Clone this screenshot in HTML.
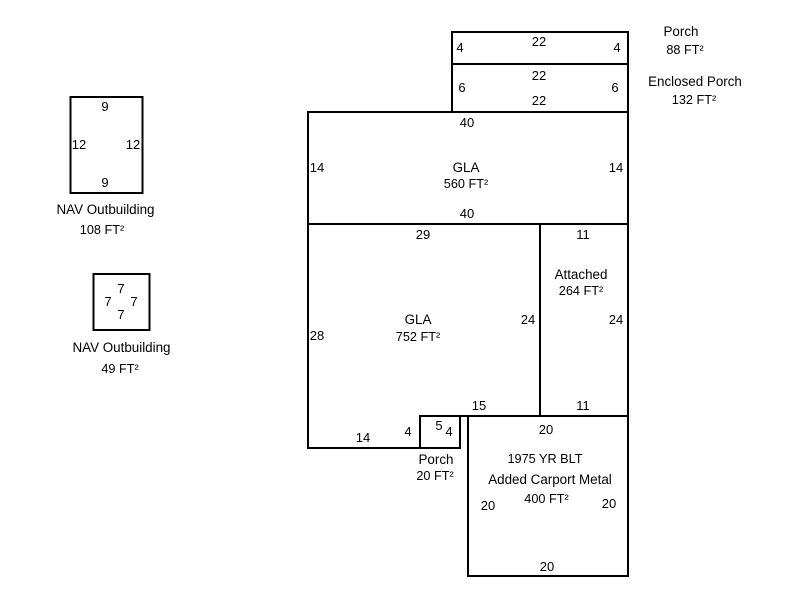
<!DOCTYPE html>
<html>
<head>
<meta charset="utf-8">
<style>
html,body{margin:0;padding:0;background:#fff;}
svg{display:block;}
text{font-family:"Liberation Sans",Arial,sans-serif;font-size:13px;fill:#000;text-anchor:middle;}
text.w{font-size:13.4px;}
text.a{font-size:12.7px;}
</style>
</head>
<body>
<svg width="800" height="600" viewBox="0 0 800 600" xmlns="http://www.w3.org/2000/svg">
<g fill="none" stroke="#000" stroke-width="2">
<rect x="452" y="32" width="176" height="32"/>
<rect x="452" y="64" width="176" height="48"/>
<rect x="308" y="112" width="320" height="112"/>
<path d="M308 224V448H420"/>
<path d="M540 224V416"/>
<path d="M628 224V576H468V416"/>
<path d="M420 416H628"/>
<rect x="420" y="416" width="40" height="32"/>
<rect x="70.500" y="97" width="72" height="96"/>
<rect x="93.500" y="274" width="56" height="56"/>
</g>
<text x="460" y="52">4</text>
<text x="539" y="46">22</text>
<text x="617" y="52">4</text>
<text x="462" y="92">6</text>
<text x="539" y="80">22</text>
<text x="539" y="105">22</text>
<text x="615" y="92">6</text>
<text class="w" x="681" y="36">Porch</text>
<text class="a" x="685" y="54">88 FT²</text>
<text class="w" x="695" y="86">Enclosed Porch</text>
<text class="a" x="694" y="104">132 FT²</text>
<text x="467" y="127">40</text>
<text x="317" y="172">14</text>
<text x="616" y="172">14</text>
<text class="w" x="466" y="172">GLA</text>
<text class="a" x="466" y="188">560 FT²</text>
<text x="467" y="218">40</text>
<text x="423" y="239">29</text>
<text x="583" y="239">11</text>
<text class="w" x="581" y="279">Attached</text>
<text class="a" x="581" y="295">264 FT²</text>
<text x="317" y="340">28</text>
<text class="w" x="418" y="324">GLA</text>
<text class="a" x="418" y="341">752 FT²</text>
<text x="528" y="324">24</text>
<text x="616" y="324">24</text>
<text x="479" y="410">15</text>
<text x="583" y="410">11</text>
<text x="363" y="442">14</text>
<text x="408" y="436">4</text>
<text x="439" y="430">5</text>
<text x="449" y="436">4</text>
<text class="w" x="436" y="464">Porch</text>
<text class="a" x="435" y="480">20 FT²</text>
<text x="546" y="434">20</text>
<text class="a" x="545" y="463">1975 YR BLT</text>
<text class="w" x="550" y="484">Added Carport Metal</text>
<text class="a" x="546.500" y="503">400 FT²</text>
<text x="488" y="510">20</text>
<text x="609" y="508">20</text>
<text x="547" y="571">20</text>
<text x="105" y="111">9</text>
<text x="79" y="149">12</text>
<text x="133" y="149">12</text>
<text x="105" y="187">9</text>
<text class="w" x="105.500" y="214">NAV Outbuilding</text>
<text class="a" x="102" y="234">108 FT²</text>
<text x="121" y="293">7</text>
<text x="108" y="306">7</text>
<text x="134" y="306">7</text>
<text x="121" y="319">7</text>
<text class="w" x="121.500" y="352">NAV Outbuilding</text>
<text class="a" x="120" y="373">49 FT²</text>
</svg>
</body>
</html>
